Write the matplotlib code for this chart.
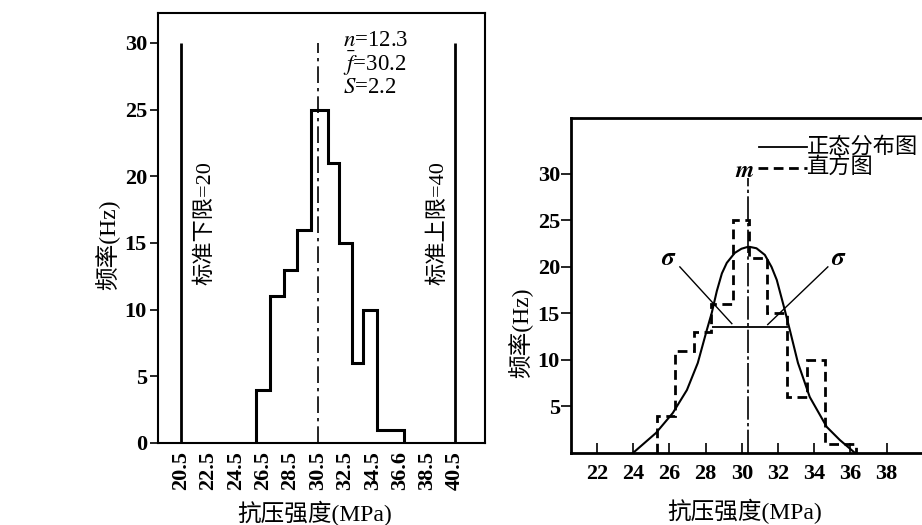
import matplotlib
matplotlib.use("Agg")
import matplotlib.pyplot as plt

plt.rcParams['font.family'] = ['Liberation Serif', 'Noto Sans CJK SC']
plt.rcParams['mathtext.fontset'] = 'stix'

# 左图：频数直方图（阶梯）
left_edges = [26.0, 27.0, 28.0, 29.0, 30.0, 31.2, 32.0, 33.0, 33.8, 34.8, 36.8]
left_counts = [4, 11, 13, 16, 25, 21, 15, 6, 10, 1]
left_ticks = [20.5, 22.5, 24.5, 26.5, 28.5, 30.5, 32.5, 34.5, 36.5, 38.5, 40.5]
left_tick_labels = ["20.5", "22.5", "24.5", "26.5", "28.5", "30.5", "32.5",
                    "34.5", "36.6", "38.5", "40.5"]
lower_limit = 20.5
upper_limit = 40.5
center_line = 30.5
limit_height = 30
stats_text = [r"$n$=12.3", r"$\bar{f}$=30.2", r"$S$=2.2"]

# 右图：正态分布曲线 + 虚线直方图
right_edges = [25.3, 26.3, 27.35, 28.3, 29.5, 30.4, 31.4, 32.5, 33.6, 34.6, 36.3]
right_counts = [4, 11, 13, 16, 25, 21, 15, 6, 10, 1]
curve_x = [23.99, 25.26, 26.19, 26.97, 27.57, 28.07, 28.34, 28.62, 28.9, 29.17,
           29.61, 29.98, 30.33, 30.44, 30.81, 31.27, 31.64, 31.93, 32.37, 32.65,
           33.10, 33.75, 34.69, 35.41, 36.25]
curve_y = [0.0, 2.15, 4.30, 6.77, 9.68, 13.23, 15.05, 17.4, 19.3, 20.43,
           21.5, 21.95, 22.15, 22.15, 22.0, 21.29, 20.0, 18.6, 15.38, 13.23,
           9.68, 6.02, 2.80, 1.40, 0.0]
m_x = 30.33
m_top = 29.6
sigma_y = 13.5
sigma_left = 28.34
sigma_right = 32.54
right_xticks = [22, 24, 26, 28, 30, 32, 34, 36, 38]
right_yticks = [5, 10, 15, 20, 25, 30]

x_label = "抗压强度(MPa)"
y_label = "频率(Hz)"

fig = plt.figure(figsize=(9.22, 5.25), dpi=100)

# ---------------- 左图 ----------------
ax1 = fig.add_axes([158 / 922, 82 / 525, 327 / 922, 430 / 525])
ax1.stairs(left_counts, left_edges, color='black', lw=2.2, baseline=0)
ax1.vlines([lower_limit, upper_limit], 0, limit_height, colors='black', lw=2)
ax1.vlines(center_line, 0, limit_height, colors='black', lw=1.2,
           linestyles=(0, (10, 3, 2, 3)))
ax1.set_xlim(18.82, 42.69)
ax1.set_ylim(0, 32.25)
ax1.set_xticks(left_ticks)
ax1.set_xticklabels(left_tick_labels, rotation=90)
ax1.set_yticks([0, 5, 10, 15, 20, 25, 30])
ax1.tick_params(axis='x', length=0, pad=6, labelsize=16)
ax1.tick_params(axis='y', length=6, width=1.2, pad=2, labelsize=16)
for lab in ax1.get_xticklabels() + ax1.get_yticklabels():
    lab.set_fontweight('bold')
for sp in ax1.spines.values():
    sp.set_linewidth(1.5)

ax1.text(22.25, 16.5, "标准下限=20", rotation=90, ha='center', va='center', fontsize=16)
ax1.text(39.3, 16.5, "标准上限=40", rotation=90, ha='center', va='center', fontsize=16)
ax1.text(32.3, 28.45, "\n".join(stats_text), ha='left', va='center', fontsize=16.5,
         linespacing=0.95)

ax1.set_ylabel(y_label, fontsize=17)
ax1.yaxis.set_label_coords(-0.116, 0.46)
ax1.set_xlabel(x_label, fontsize=17)
ax1.xaxis.set_label_coords(0.48, -0.135)

# ---------------- 右图 ----------------
ax2 = fig.add_axes([571 / 922, 72 / 525, 361 / 922, 335 / 525])
ax2.plot(curve_x, curve_y, color='black', lw=1.5)
ax2.stairs(right_counts, right_edges, color='black', lw=2, baseline=0,
           linestyle=(0, (3.5, 2)))
ax2.vlines(m_x, 0, m_top, colors='black', lw=1.2, linestyles=(0, (14, 2, 2, 2)))
ax2.hlines(sigma_y, sigma_left, sigma_right, colors='black', lw=1.3)
ax2.plot([26.58, 29.45], [20.0, 13.9], color='black', lw=1)
ax2.plot([34.75, 31.43], [20.0, 13.8], color='black', lw=1)
ax2.text(25.97, 20.9, r"$\boldsymbol{\sigma}$", ha='center', va='center', fontsize=18)
ax2.text(35.35, 20.9, r"$\boldsymbol{\sigma}$", ha='center', va='center', fontsize=18)
ax2.text(m_x - 0.15, 30.3, r"$\boldsymbol{m}$", ha='center', va='center', fontsize=17)

# 图例（手绘样式）
ax2.plot([0.521, 0.654], [0.913, 0.913], transform=ax2.transAxes, color='black', lw=1.3)
ax2.text(0.654, 0.913, "正态分布图", transform=ax2.transAxes, ha='left', va='center',
         fontsize=16)
ax2.plot([0.518, 0.654], [0.851, 0.851], transform=ax2.transAxes, color='black', lw=2,
         linestyle=(0, (3.5, 2)))
ax2.text(0.654, 0.851, "直方图", transform=ax2.transAxes, ha='left', va='center',
         fontsize=16)

ax2.set_xlim(20.57, 40.5)
ax2.set_ylim(0, 36)
ax2.set_xticks(right_xticks)
ax2.set_yticks(right_yticks)
ax2.tick_params(axis='x', direction='in', length=7, width=1.2, pad=8, labelsize=16)
ax2.tick_params(axis='y', direction='out', length=7, width=1.2, pad=1, labelsize=16)
for lab in ax2.get_xticklabels() + ax2.get_yticklabels():
    lab.set_fontweight('bold')
for sp in ax2.spines.values():
    sp.set_linewidth(2)

ax2.set_ylabel(y_label, fontsize=17)
ax2.yaxis.set_label_coords(-0.105, 0.36)
ax2.set_xlabel(x_label, fontsize=17)
ax2.xaxis.set_label_coords(0.482, -0.137)

fig.savefig("out.png", dpi=100)
